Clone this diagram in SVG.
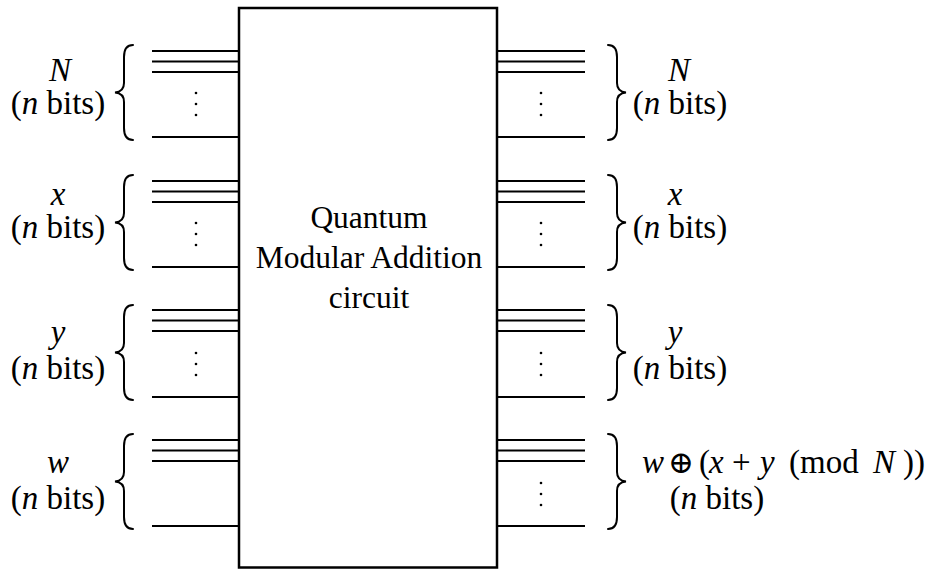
<svg xmlns="http://www.w3.org/2000/svg" width="939" height="569" viewBox="0 0 939 569">
<style>
text{font-family:"Liberation Serif","Times New Roman",serif;font-size:33px;fill:#000}
.c{text-anchor:middle}
.i{font-style:italic}
.t{font-size:31.5px}
.o{font-family:"DejaVu Serif",serif;font-size:31px}
.box{fill:#fff;stroke:#000;stroke-width:2.5}
.w{stroke:#000;stroke-width:2;fill:none}
.br{stroke:#000;stroke-width:2;fill:none;stroke-linecap:round}
.dot{fill:#000}
</style>
<defs>
<path id="brace" class="br" d="M18,0 C12,0 9,4 9,12 L9,38 C9,44 6,47 0,47.5 C6,48 9,51 9,57 L9,83 C9,91 12,95 18,95"/>
<g id="dots"><circle cx="0" cy="0" r="1.3"/><circle cx="0" cy="11" r="1.3"/><circle cx="0" cy="22" r="1.3"/></g>
</defs>
<g id="wires">
<path class="w" d="M152,51H239M152,61.5H239M152,72H239M152,137H239"/>
<path class="w" d="M152,181H239M152,191.5H239M152,202H239M152,267H239"/>
<path class="w" d="M152,310H239M152,320.5H239M152,331H239M152,397H239"/>
<path class="w" d="M152,440H239M152,450.5H239M152,461H239M152,526H239"/>
<path class="w" d="M497,51H585M497,61.5H585M497,72H585M497,137H585"/>
<path class="w" d="M497,181H585M497,191.5H585M497,202H585M497,267H585"/>
<path class="w" d="M497,310H585M497,320.5H585M497,331H585M497,397H585"/>
<path class="w" d="M497,440H585M497,450.5H585M497,461H585M497,526H585"/>
<g class="dot">
<use href="#dots" x="196" y="93"/>
<use href="#dots" x="196" y="223"/>
<use href="#dots" x="196" y="353"/>
<use href="#dots" x="541" y="93"/>
<use href="#dots" x="541" y="223"/>
<use href="#dots" x="541" y="353"/>
<use href="#dots" x="541" y="483"/>
</g>
</g>
<g id="circuit">
<rect class="box" x="239" y="8" width="258" height="559.5"/>
<text class="c t" x="369" y="228">Quantum</text>
<text class="c t" x="369" y="268">Modular Addition</text>
<text class="c t" x="369" y="308">circuit</text>
</g>
<g id="in-N">
<use href="#brace" transform="translate(115,45)"/>
<text class="c i" x="60" y="81">N</text>
<text class="c" x="58" y="114">(<tspan class="i">n</tspan> bits)</text>
</g>
<g id="in-x">
<use href="#brace" transform="translate(115,175)"/>
<text class="c i" x="58" y="205">x</text>
<text class="c" x="58" y="237.5">(<tspan class="i">n</tspan> bits)</text>
</g>
<g id="in-y">
<use href="#brace" transform="translate(115,305)"/>
<text class="c i" x="58" y="343">y</text>
<text class="c" x="58" y="379">(<tspan class="i">n</tspan> bits)</text>
</g>
<g id="in-w">
<use href="#brace" transform="translate(115,434)"/>
<text class="c i" x="58" y="473">w</text>
<text class="c" x="58" y="509">(<tspan class="i">n</tspan> bits)</text>
</g>
<g id="out-N">
<use href="#brace" transform="translate(626,45) scale(-1,1)"/>
<text class="c i" x="679" y="81">N</text>
<text class="c" x="680" y="114">(<tspan class="i">n</tspan> bits)</text>
</g>
<g id="out-x">
<use href="#brace" transform="translate(626,175) scale(-1,1)"/>
<text class="c i" x="675" y="205">x</text>
<text class="c" x="680" y="237.5">(<tspan class="i">n</tspan> bits)</text>
</g>
<g id="out-y">
<use href="#brace" transform="translate(626,305) scale(-1,1)"/>
<text class="c i" x="675" y="343">y</text>
<text class="c" x="680" y="379">(<tspan class="i">n</tspan> bits)</text>
</g>
<g id="out-w">
<use href="#brace" transform="translate(626,434) scale(-1,1)"/>
<text y="473"><tspan class="i" x="642">w</tspan><tspan class="o" x="668">⊕</tspan><tspan x="699">(</tspan><tspan class="i" x="709">x</tspan><tspan x="732">+</tspan><tspan class="i" x="760">y</tspan><tspan x="789">(mod</tspan><tspan class="i" x="873">N</tspan><tspan x="903">))</tspan></text>
<text class="c" x="717" y="509">(<tspan class="i">n</tspan> bits)</text>
</g>
</svg>
